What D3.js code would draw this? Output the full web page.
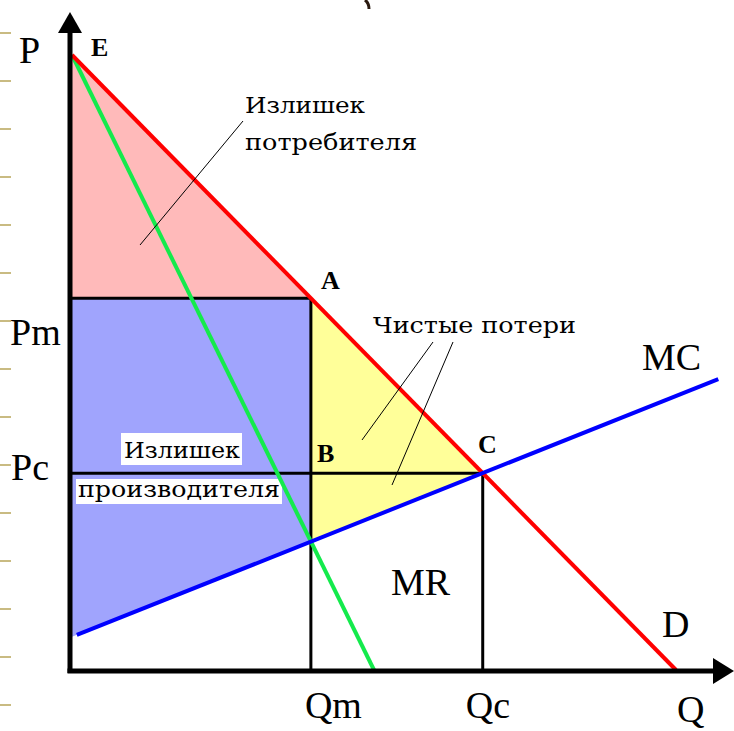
<!DOCTYPE html>
<html>
<head>
<meta charset="utf-8">
<script src="https://cdn.jsdelivr.net/npm/d3@7"></script>
<style>
  body { margin: 0; background: #fff; }
  svg { display: block; }
  .lbl { font-family: 'Liberation Serif', 'Times New Roman', serif; fill: #000; }
  .note { font-family: 'DejaVu Serif', 'Liberation Serif', serif; fill: #000; }
</style>
</head>
<body>
<div id="chart"></div>
<script>
// curves, in (Q, P) units
const demandCurve = [[0, 10], [10, 0]];
const mrCurve = [[0, 10], [5, 0]];
const mcCurve = [[0.08, 0.57], [10.7, 4.73]];

// key points
const monopoly = {Q: 3.955, P: 6.045, mc: 2.09};
const competitive = {Q: 6.8, P: 3.2};
const mcStart = 0.54;

const priceLabels = ['P', 'Pm', 'Pc'];
const qtyLabels = ['Qm', 'Qc', 'Q'];
const pointLabels = ['E', 'A', 'B', 'C'];
const curveLabels = ['MC', 'MR', 'D'];
const notes = {
    consumer: ['Излишек', 'потребителя'],
    producer: ['Излишек', 'производителя'],
    loss: 'Чистые потери'
};

function createChart() {
    const width = 734, height = 731;
    const svg = d3.select('#chart').append('svg')
        .attr('width', width)
        .attr('height', height);

    const x = d3.scaleLinear().domain([0, 10]).range([72, 676]);
    const y = d3.scaleLinear().domain([0, 10]).range([670, 55]);
    const line = d3.line().x(d => x(d[0])).y(d => y(d[1]));

    // slide decoration on the left edge
    svg.append('g').selectAll('line')
        .data(d3.range(33, 720, 48))
        .enter().append('line')
        .attr('x1', 0).attr('x2', 11)
        .attr('y1', d => d).attr('y2', d => d)
        .attr('stroke', '#c9bb82').attr('stroke-width', 2);
    svg.append('path')
        .attr('d', 'M365,0 Q369,3 369,9')
        .attr('fill', 'none').attr('stroke', '#2a1a10').attr('stroke-width', 3);

    // areas
    const m = monopoly, c = competitive;
    svg.append('path')
        .attr('d', line([[0, 10], [m.Q, m.P], [0, m.P]]) + 'Z')
        .attr('fill', '#ffbaba');
    svg.append('path')
        .attr('d', line([[0, m.P], [m.Q, m.P], [m.Q, m.mc], [0, mcStart]]) + 'Z')
        .attr('fill', '#a0a4fd');
    svg.append('path')
        .attr('d', line([[m.Q, m.P], [c.Q, c.P], [m.Q, m.mc]]) + 'Z')
        .attr('fill', '#ffff99');

    // white boxes behind producer surplus text
    svg.append('rect').attr('x', 121).attr('y', 433).attr('width', 121).attr('height', 32).attr('fill', '#fff');
    svg.append('rect').attr('x', 76).attr('y', 479).attr('width', 206).attr('height', 25).attr('fill', '#fff');

    // guide lines
    const guides = [
        [[0, m.P], [m.Q, m.P]],
        [[m.Q, m.P], [m.Q, 0]],
        [[0, c.P], [c.Q, c.P]],
        [[c.Q, c.P], [c.Q, 0]]
    ];
    svg.append('g').selectAll('path')
        .data(guides)
        .enter().append('path')
        .attr('d', line)
        .attr('fill', 'none')
        .attr('stroke', '#000')
        .attr('stroke-width', 3);

    // curves
    svg.append('path').attr('d', line(mrCurve))
        .attr('fill', 'none').attr('stroke', '#14ea4c').attr('stroke-width', 4);
    svg.append('path').attr('d', line(demandCurve))
        .attr('fill', 'none').attr('stroke', '#ff0000').attr('stroke-width', 4);
    svg.append('path').attr('d', line(mcCurve))
        .attr('fill', 'none').attr('stroke', '#0000ff').attr('stroke-width', 4);

    // axes
    const ax = 70, ay = 671;
    svg.append('line')
        .attr('x1', ax).attr('y1', ay + 2).attr('x2', ax).attr('y2', 30)
        .attr('stroke', '#000').attr('stroke-width', 5);
    svg.append('path')
        .attr('d', `M${ax},12 L${ax - 12},33 L${ax + 12},33 Z`)
        .attr('fill', '#000');
    svg.append('line')
        .attr('x1', ax - 2.5).attr('y1', ay).attr('x2', 716).attr('y2', ay)
        .attr('stroke', '#000').attr('stroke-width', 5);
    svg.append('path')
        .attr('d', `M734,${ay} L713,${ay - 13} L713,${ay + 13} Z`)
        .attr('fill', '#000');

    // axis labels
    const bigFont = 38;
    const pPos = [[19, 63], [10, 345], [11, 480]];
    svg.append('g').selectAll('text')
        .data(priceLabels)
        .enter().append('text')
        .attr('class', 'lbl')
        .attr('x', (d, i) => pPos[i][0])
        .attr('y', (d, i) => pPos[i][1])
        .style('font-size', bigFont + 'px')
        .text(d => d);

    const qPos = [[x(m.Q) - 6, 718], [x(c.Q) - 17, 718], [677, 722]];
    svg.append('g').selectAll('text')
        .data(qtyLabels)
        .enter().append('text')
        .attr('class', 'lbl')
        .attr('x', (d, i) => qPos[i][0])
        .attr('y', (d, i) => qPos[i][1])
        .style('font-size', bigFont + 'px')
        .text(d => d);

    const cPos = [[642, 370], [391, 595], [662, 637]];
    svg.append('g').selectAll('text')
        .data(curveLabels)
        .enter().append('text')
        .attr('class', 'lbl')
        .attr('x', (d, i) => cPos[i][0])
        .attr('y', (d, i) => cPos[i][1])
        .style('font-size', bigFont + 'px')
        .text(d => d);

    const ptPos = [[91, 56], [321, 289], [317, 462], [478, 453]];
    svg.append('g').selectAll('text')
        .data(pointLabels)
        .enter().append('text')
        .attr('class', 'lbl')
        .attr('x', (d, i) => ptPos[i][0])
        .attr('y', (d, i) => ptPos[i][1])
        .style('font-size', '26px')
        .style('font-weight', 'bold')
        .text(d => d);

    // notes
    const note = (txt, px, py, len) => svg.append('text')
        .attr('class', 'note')
        .attr('x', px).attr('y', py)
        .attr('textLength', len)
        .attr('lengthAdjust', 'spacingAndGlyphs')
        .style('font-size', '23px')
        .text(txt);
    note(notes.consumer[0], 245, 113, 120);
    note(notes.consumer[1], 245, 150, 172);
    note(notes.producer[0], 124, 458, 116);
    note(notes.producer[1], 78, 497, 202);
    note(notes.loss, 373, 333, 203);

    const pointers = [
        [[243, 121], [140, 245]],
        [[433, 342], [362, 440]],
        [[453, 342], [392, 485]]
    ];
    svg.append('g').selectAll('line')
        .data(pointers)
        .enter().append('line')
        .attr('x1', d => d[0][0]).attr('y1', d => d[0][1])
        .attr('x2', d => d[1][0]).attr('y2', d => d[1][1])
        .attr('stroke', '#000').attr('stroke-width', 1);
}

createChart();
</script>
</body>
</html>
